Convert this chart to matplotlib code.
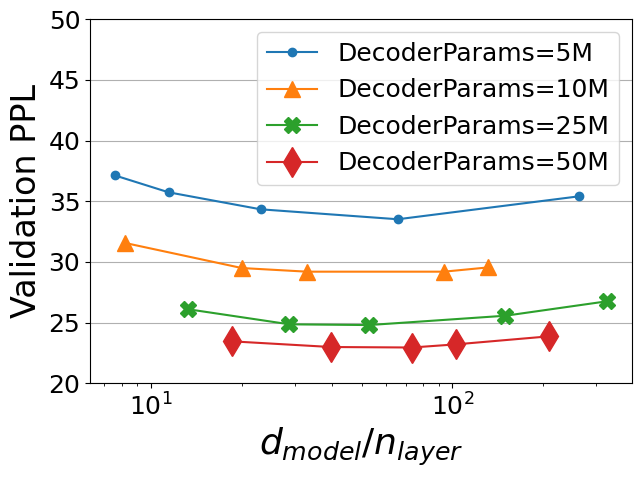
import matplotlib
matplotlib.use('Agg')
import matplotlib.pyplot as plt

# d_model / n_layer vs validation PPL for each decoder size
x_5m = [7.57, 11.44, 23.1, 65.9, 263]
ppl_5m = [37.14, 35.74, 34.34, 33.52, 35.41]

x_10m = [8.22, 20.0, 32.9, 93.7, 131.2]
ppl_10m = [31.56, 29.5, 29.2, 29.2, 29.55]

x_25m = [13.3, 28.8, 52.8, 150, 326]
ppl_25m = [26.1, 24.86, 24.8, 25.57, 26.76]

x_50m = [18.5, 39.6, 73.4, 102.8, 209]
ppl_50m = [23.46, 22.99, 22.95, 23.21, 23.87]

labels = ['DecoderParams=5M', 'DecoderParams=10M',
          'DecoderParams=25M', 'DecoderParams=50M']

fig = plt.figure(figsize=(6.42, 4.78), dpi=100)
ax = fig.add_axes([90 / 642, 1 - 383.3 / 478, (631.7 - 90) / 642, (383.3 - 19.3) / 478])

ax.plot(x_5m, ppl_5m, marker='o', markersize=6, label=labels[0])
ax.plot(x_10m, ppl_10m, marker='^', markersize=12, label=labels[1])
ax.plot(x_25m, ppl_25m, marker='X', markersize=11, label=labels[2])
ax.plot(x_50m, ppl_50m, marker='d', markersize=15, label=labels[3])

ax.set_xscale('log')
ax.set_ylim(20, 50)
ax.set_yticks([20, 25, 30, 35, 40, 45, 50])
ax.tick_params(labelsize=18)
ax.grid(True, axis='y')
ax.set_ylabel('Validation PPL', fontsize=24)
ax.set_xlabel('$d_{model}/n_{layer}$', fontsize=26)
ax.legend(fontsize=18, loc='upper right')

fig.savefig('out.png', dpi=100)
